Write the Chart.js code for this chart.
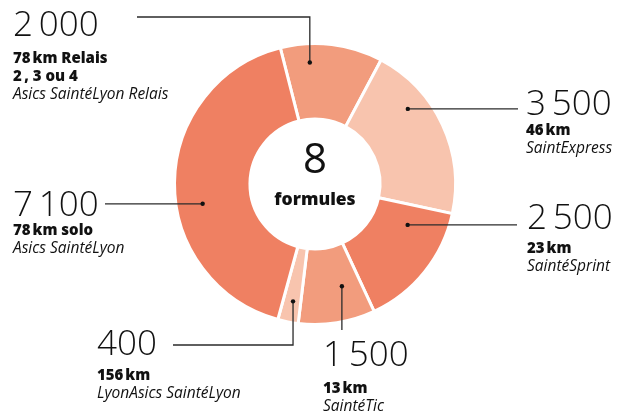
<!DOCTYPE html>
<html lang="fr">
<head>
<meta charset="utf-8">
<title>8 formules</title>
<script src="https://cdn.jsdelivr.net/npm/chart.js@4"></script>
<style>
  html, body { margin: 0; padding: 0; background: #fff; }
  canvas { display: block; }
</style>
</head>
<body>
<canvas id="donut" width="617" height="413"></canvas>
<script>
// données (sens horaire depuis le haut)
const values = [2000, 3500, 2500, 1500, 400, 7100];
const valueLabels = ["2\u2009000", "3\u2009500", "2\u2009500", "1\u2009500", "400", "7\u2009100"];
const distances = [
  ["78\u202Fkm Relais", "2\u2009, 3 ou 4"],
  ["46\u202Fkm"],
  ["23\u202Fkm"],
  ["13\u202Fkm"],
  ["156\u202Fkm"],
  ["78\u202Fkm solo"],
];
const raceNames = [
  "Asics SaintéLyon Relais",
  "SaintExpress",
  "SaintéSprint",
  "SaintéTic",
  "LyonAsics SaintéLyon",
  "Asics SaintéLyon",
];
const centerNumber = "8";
const centerLabel = "formules";

const colors = ["#f29c7d", "#f8c4ae", "#ef8062", "#f29c7d", "#f8c4ae", "#ef8062"];

// placement des étiquettes et des traits de rappel
// dot: position du point dans le secteur (fraction d'angle, fraction d'épaisseur)
// path: trajet du trait depuis le point
// x, y: grand chiffre ; sub: ligne de base du premier sous-titre
const layout = [
  { dot: [0.28, 0.75], path: [["y", 17], ["x", 137]], x: 13, y: 36, sub: 63 },
  { dot: [0.31, 0.72], path: [["x", 518]], x: 526, y: 115, sub: 135 },
  { dot: [0.22, 0.48], path: [["x", 517]], x: 527, y: 229, sub: 253 },
  { dot: [0.32, 0.54], path: [["y", 330]], x: 323, y: 366, sub: 393 },
  { dot: [0.44, 0.72], path: [["y", 345], ["x", 173]], x: 97, y: 355, sub: 380 },
  { dot: [0.43, 0.65], path: [["x", 105]], x: 13, y: 216, sub: 235 },
];

const leaderLabels = {
  id: "leaderLabels",
  afterDraw(chart) {
    const ctx = chart.ctx;
    const arcs = chart.getDatasetMeta(0).data;
    ctx.save();
    arcs.forEach((arc, i) => {
      const p = arc.getProps(["x", "y", "startAngle", "endAngle", "innerRadius", "outerRadius"], true);
      const L = layout[i];
      const a = p.startAngle + (p.endAngle - p.startAngle) * L.dot[0];
      const r = p.innerRadius + (p.outerRadius - p.innerRadius) * L.dot[1];
      const dx = p.x + Math.cos(a) * r;
      const dy = p.y + Math.sin(a) * r;

      // trait
      let cx = dx, cy = dy;
      ctx.strokeStyle = "#2b2b2b";
      ctx.lineWidth = 1.3;
      ctx.beginPath();
      ctx.moveTo(cx, cy);
      L.path.forEach(([axis, v]) => {
        if (axis === "x") cx = v; else cy = v;
        ctx.lineTo(cx, cy);
      });
      ctx.stroke();

      // point
      ctx.fillStyle = "#111";
      ctx.beginPath();
      ctx.arc(dx, dy, 2.2, 0, Math.PI * 2);
      ctx.fill();

      // textes
      ctx.textAlign = "left";
      ctx.textBaseline = "alphabetic";
      ctx.fillStyle = "#111";
      ctx.font = '300 35px "Open Sans"';
      ctx.fillText(valueLabels[i], L.x, L.y);
      let ty = L.sub;
      ctx.font = '800 15px "Open Sans"';
      distances[i].forEach((t) => {
        ctx.fillText(t, L.x, ty);
        ty += 18;
      });
      ctx.font = 'italic 15.5px "Open Sans"';
      ctx.fillText(raceNames[i], L.x, ty);
    });

    // centre
    const c = arcs[0].getProps(["x", "y"], true);
    ctx.textAlign = "center";
    ctx.fillStyle = "#111";
    ctx.font = '400 42px "Open Sans"';
    ctx.fillText(centerNumber, c.x, c.y - 11);
    ctx.font = '800 17.5px "Open Sans"';
    ctx.fillText(centerLabel, c.x, c.y + 21);
    ctx.restore();
  },
};

const config = {
  type: "doughnut",
  data: {
    labels: raceNames,
    datasets: [
      {
        data: values,
        backgroundColor: colors,
        borderColor: "#ffffff",
        borderWidth: 3,
        hoverOffset: 0,
        offset: 0,
      },
    ],
  },
  options: {
    responsive: false,
    animation: false,
    events: [],
    rotation: -14.3,
    cutout: "46.3%",
    layout: { padding: { left: 173, right: 160, top: 42, bottom: 87 } },
    plugins: {
      legend: { display: false },
      tooltip: { enabled: false },
    },
  },
  plugins: [leaderLabels],
};

const canvas = document.getElementById("donut");
new Chart(canvas, config);
</script>
</body>
</html>
